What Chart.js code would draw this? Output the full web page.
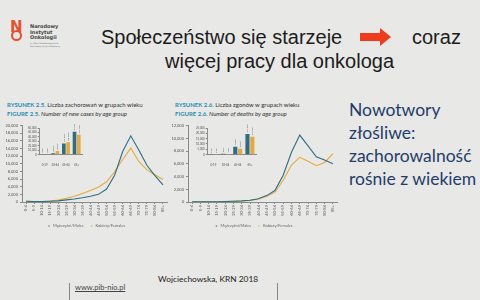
<!DOCTYPE html>
<html lang="pl">
<head>
<meta charset="utf-8">
<script src="https://cdn.jsdelivr.net/npm/chart.js@4.4.1/dist/chart.umd.min.js"></script>
<style>
  html, body { margin: 0; padding: 0; }
  body { width: 480px; height: 300px; background: #e8e8e6; position: relative; overflow: hidden; font-family: "Liberation Sans", Arial, sans-serif; }
  .abs { position: absolute; }
  .title { font-size: 20px; color: #1c1c1c; white-space: nowrap; line-height: 24px; }
  .arrow { position: absolute; left: 360px; top: 33px; width: 20px; height: 8px; background: #ef3b1b; }
  .arrow::after { content: ""; position: absolute; left: 20px; top: -5px; border-left: 11px solid #ef3b1b; border-top: 9px solid transparent; border-bottom: 9px solid transparent; }
  .fig { font-family: Lato, "Open Sans", sans-serif; font-size: 6px; color: #333; white-space: nowrap; line-height: 9px; }
  .fig b { color: #2a8db5; font-weight: 700; }
  .fig i b { color: #2a8db5; font-style: normal; }
  .side { font-family: Lato, "Open Sans", sans-serif; font-size: 17.5px; color: #1f3d6b; line-height: 23px; }
  .foot { font-family: Lato, "Open Sans", sans-serif; font-size: 8.4px; color: #222; }
  .logo-t { font-family: "DejaVu Sans", sans-serif; font-size: 5px; font-weight: bold; color: #444; line-height: 5.5px; }
  .logo-s { font-family: "DejaVu Sans", sans-serif; font-size: 2px; color: #666; line-height: 2.6px; }
  canvas { position: absolute; }
</style>
</head>
<body>
<!-- logo -->
<div class="abs" style="left:10px;top:18px;font-family:'DejaVu Sans',sans-serif;font-weight:bold;font-size:15px;color:#e6502c;">N</div>
<div class="abs" style="left:11px;top:30px;width:7px;height:7px;border:2.5px solid #e6502c;border-radius:50%;"></div>
<div class="abs logo-t" style="left:30px;top:24px;">Narodowy<br>Instytut<br>Onkologii</div>
<div class="abs logo-s" style="left:30px;top:42px;">im. Marii Skłodowskiej-Curie<br>Państwowy Instytut Badawczy</div>

<!-- slide title -->
<div class="abs title" style="left:101px;top:25px;">Społeczeństwo się starzeje</div>
<div class="arrow"></div>
<div class="abs title" style="left:412px;top:25px;">coraz</div>
<div class="abs title" style="left:165px;top:49px;">więcej pracy dla onkologa</div>

<!-- figure titles -->
<div class="abs fig" style="left:7px;top:100px;"><b>RYSUNEK 2.5.</b> Liczba zachorowań w grupach wieku<br><i><b>FIGURE 2.5.</b> Number of new cases by age group</i></div>
<div class="abs fig" style="left:175px;top:100px;"><b>RYSUNEK 2.6.</b> Liczba zgonów w grupach wieku<br><i><b>FIGURE 2.6.</b> Number of deaths by age group</i></div>

<canvas id="cases-chart" style="left:5px;top:118px;width:165px;height:120px;"></canvas>
<canvas id="deaths-chart" style="left:170px;top:118px;width:170px;height:120px;"></canvas>
<canvas id="cases-inset" style="left:27px;top:124px;width:56px;height:44px;"></canvas>
<canvas id="deaths-inset" style="left:195px;top:124px;width:62px;height:44px;"></canvas>

<!-- side text -->
<div class="abs side" style="left:349px;top:98px;">Nowotwory<br>złośliwe:<br>zachorowalność<br>rośnie z wiekiem</div>

<!-- footer -->
<div class="abs foot" style="left:158px;top:274px;">Wojciechowska, KRN 2018</div>
<div class="abs foot" style="left:75px;top:283px;font-size:7.5px;color:#444;text-decoration:underline;">www.pib-nio.pl</div>
<div class="abs" style="left:69px;top:283px;width:1px;height:17px;background:#888;"></div>
<div class="abs" style="left:277px;top:283px;width:1px;height:17px;background:#888;"></div>

<script>
const AGE_GROUPS = ["0-4", "5-9", "10-14", "15-19", "20-24", "25-29", "30-34", "35-39", "40-44",
  "45-49", "50-54", "55-59", "60-64", "65-69", "70-74", "75-79", "80-84", "85+"];
const CASES_MEN = [180, 130, 130, 200, 300, 550, 800, 1100, 1500, 2000, 3400, 7000, 13200, 17300, 13600, 9600, 6900, 4500];
const CASES_WOMEN = [170, 120, 130, 220, 500, 1000, 1500, 2200, 3000, 3900, 5300, 7900, 11100, 14100, 10600, 8400, 7100, 5900];
const DEATHS_MEN = [30, 30, 30, 50, 80, 120, 180, 280, 500, 1000, 1800, 4200, 7800, 10500, 8800, 7100, 6600, 6000];
const DEATHS_WOMEN = [30, 20, 30, 40, 60, 100, 160, 260, 480, 900, 1500, 3400, 5800, 7000, 6400, 5700, 6200, 7600];

const BROAD_GROUPS = ["0-19", "20-44", "45-64", "65+"];
const CASES_MEN_BROAD = [640, 3300, 25300, 51300];
const CASES_WOMEN_BROAD = [620, 8000, 28000, 44700];
const DEATHS_MEN_BROAD = [150, 900, 7500, 19400];
const DEATHS_WOMEN_BROAD = [110, 700, 5600, 16700];

const MEN_COLOR = "#2b6e86";
const WOMEN_COLOR = "#e8a83a";
const AXIS_COLOR = "#8a8a8a";
const TICK_FONT = { family: "Lato", size: 4 };
const INSET_FONT = { family: "Lato", size: 2.8 };

const barValueLabels = {
  id: "barValueLabels",
  afterDatasetsDraw(chart) {
    const ctx = chart.ctx;
    chart.data.datasets.forEach((ds, i) => {
      chart.getDatasetMeta(i).data.forEach((bar, j) => {
        ctx.save();
        ctx.translate(bar.x, bar.y - 1.5);
        ctx.rotate(-Math.PI / 2);
        ctx.font = "2.6px Lato";
        ctx.fillStyle = "#555";
        ctx.textBaseline = "middle";
        ctx.fillText(ds.data[j].toLocaleString("pl-PL"), 0, 0);
        ctx.restore();
      });
    });
  },
};

function lineChart(id, men, women, max, step, yWidth) {
  return new Chart(document.getElementById(id), {
    type: "line",
    data: {
      labels: AGE_GROUPS,
      datasets: [
        { label: "Mężczyźni/Males", data: men, borderColor: MEN_COLOR, backgroundColor: MEN_COLOR, borderWidth: 1.1, pointRadius: 0, tension: 0 },
        { label: "Kobiety/Females", data: women, borderColor: WOMEN_COLOR, backgroundColor: WOMEN_COLOR, borderWidth: 1.1, pointRadius: 0, tension: 0 },
      ],
    },
    options: {
      responsive: false,
      animation: false,
      layout: { padding: { top: 7.5, right: 3, left: 0, bottom: 0 } },
      plugins: {
        tooltip: { enabled: false },
        legend: {
          position: "bottom",
          labels: { usePointStyle: true, pointStyle: "line", boxWidth: 8, boxHeight: 1, padding: 6, font: { family: "Lato", size: 4 }, color: "#666" },
        },
      },
      scales: {
        x: {
          offset: true,
          grid: { drawOnChartArea: false, tickLength: 2, color: AXIS_COLOR },
          border: { color: AXIS_COLOR },
          ticks: { minRotation: 90, maxRotation: 90, autoSkip: false, font: TICK_FONT, color: "#555", padding: 1 },
          afterFit: (s) => { s.height = 16; },
        },
        y: {
          min: 0, max: max,
          grid: { drawOnChartArea: false, tickLength: 2, color: AXIS_COLOR },
          border: { color: AXIS_COLOR },
          ticks: { stepSize: step, autoSkip: false, font: TICK_FONT, color: "#555", padding: 2 },
          afterFit: (s) => { s.width = yWidth; },
        },
      },
    },
  });
}

function insetChart(id, men, women, max, step) {
  return new Chart(document.getElementById(id), {
    type: "bar",
    data: {
      labels: BROAD_GROUPS,
      datasets: [
        { data: men, backgroundColor: MEN_COLOR, barPercentage: 0.85, categoryPercentage: 0.8 },
        { data: women, backgroundColor: WOMEN_COLOR, barPercentage: 0.85, categoryPercentage: 0.8 },
      ],
    },
    options: {
      responsive: false,
      animation: false,
      layout: { padding: { top: 4, right: 1 } },
      plugins: { legend: { display: false }, tooltip: { enabled: false } },
      scales: {
        x: {
          grid: { display: false },
          border: { color: AXIS_COLOR },
          ticks: { autoSkip: false, font: INSET_FONT, color: "#555", padding: 1, minRotation: 0, maxRotation: 0 },
        },
        y: {
          min: 0, max: max,
          grid: { drawOnChartArea: false, tickLength: 1.5, color: AXIS_COLOR },
          border: { color: AXIS_COLOR },
          ticks: { stepSize: step, autoSkip: false, font: INSET_FONT, color: "#555", padding: 1 },
        },
      },
    },
    plugins: [barValueLabels],
  });
}

lineChart("cases-chart", CASES_MEN, CASES_WOMEN, 20000, 2000, 17);
lineChart("deaths-chart", DEATHS_MEN, DEATHS_WOMEN, 12000, 2000, 18);
insetChart("cases-inset", CASES_MEN_BROAD, CASES_WOMEN_BROAD, 60000, 10000);
insetChart("deaths-inset", DEATHS_MEN_BROAD, DEATHS_WOMEN_BROAD, 25000, 5000);
</script>
</body>
</html>
